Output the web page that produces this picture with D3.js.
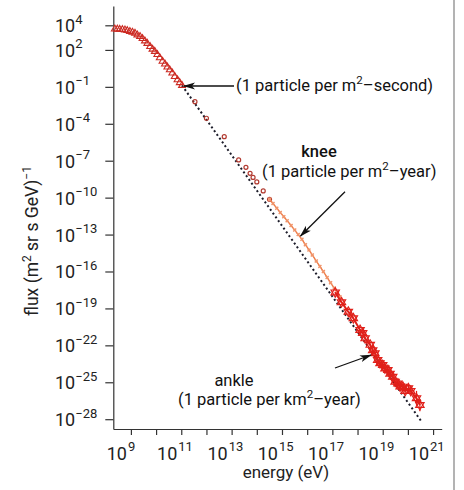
<!DOCTYPE html>
<html>
<head>
<meta charset="utf-8">
<script src="https://cdn.jsdelivr.net/npm/d3@7"></script>
<style>
body { margin: 0; background: #fff; }
svg { font-family: Roboto, "Liberation Sans", sans-serif; }
</style>
</head>
<body>
<div id="chart"></div>
<script>
var svgWidth = 464;
var svgHeight = 490;

// tick values and labels
var xTicks = [1e9, 1e10, 1e11, 1e12, 1e13, 1e14, 1e15, 1e16, 1e17, 1e18, 1e19, 1e20, 1e21];
var xLabelTicks = [1e9, 1e11, 1e13, 1e15, 1e17, 1e19, 1e21];
var xLabelExp = ["9", "11", "13", "15", "17", "19", "21"];
var yTicks = [1e4, 1e2, 1e-1, 1e-4, 1e-7, 1e-10, 1e-13, 1e-16, 1e-19, 1e-22, 1e-25, 1e-28];
var yLabelExp = ["4", "2", "\u22121", "\u22124", "\u22127", "\u221210", "\u221213", "\u221216", "\u221219", "\u221222", "\u221225", "\u221228"];

// low energy data (triangles)
var triEnergy = [2.3e8, 2.9e8, 3.6e8, 4.6e8, 5.8e8, 7.2e8, 9.1e8, 1.15e9, 1.45e9, 1.8e9, 2.3e9, 2.9e9, 3.6e9, 4.5e9,
  5.8e9, 7.2e9, 8.9e9, 1.12e10, 1.4e10, 1.8e10, 2.25e10, 2.8e10, 3.5e10, 4.4e10, 5.5e10, 7.1e10, 8.7e10, 1.07e11];
var triFlux = [5000, 4900, 4680, 4470, 4170, 3720, 3160, 2750, 2240, 1660, 1230, 830, 540, 340,
  186, 115, 76, 42, 23, 12, 7.1, 4.1, 2.4, 1.32, 0.69, 0.37, 0.22, 0.13];

// mid energy data (circles)
var circEnergy = [3.5e11, 1.0e12, 5.1e12, 1.9e13, 3.7e13, 5.4e13, 7.1e13, 1.0e14, 1.8e14, 3.2e14];
var circFlux = [6.2e-3, 2.8e-4, 8.9e-6, 1.15e-7, 2.9e-8, 9.5e-9, 4.4e-9, 1.9e-9, 3.5e-10, 7.4e-11];

// knee region (orange)
var kneeEnergy = [3.2e14, 4.4e14, 6.2e14, 8.5e14, 1.18e15, 1.6e15, 2.3e15, 3.2e15, 4.4e15, 6.2e15, 8.5e15,
  1.18e16, 1.6e16, 2.3e16, 3.2e16, 4.4e16, 6.2e16, 8.5e16, 1.18e17, 1.6e17, 2.0e17];
var kneeFlux = [7.4e-11, 3.3e-11, 1.4e-11, 6.3e-12, 2.8e-12, 1.35e-12, 5.4e-13, 2.3e-13, 1.0e-13, 4.1e-14, 1.5e-14,
  5.6e-15, 2.2e-15, 7.1e-16, 2.6e-16, 9.8e-17, 3.3e-17, 1.2e-17, 4.6e-18, 1.8e-18, 8.9e-19];

// high energy data (red)
var hiEnergy = [1.3e17, 2.3e17, 4.3e17, 6.8e17, 1.26e18, 1.6e18, 2.0e18, 3.2e18, 4.0e18, 4.9e18, 6.3e18, 7.8e18,
  1.0e19, 1.23e19, 1.6e19, 1.95e19, 2.5e19, 3.1e19, 4.0e19, 4.9e19, 6.3e19, 7.8e19, 1.05e20, 1.3e20, 2.2e20, 3.0e20];
var hiFlux = [2.0e-18, 3.2e-19, 5.4e-20, 1.6e-20, 1.8e-21, 1.0e-21, 3.7e-22, 1.1e-22, 4.0e-23, 2.3e-23, 6.5e-24, 3.5e-24,
  2.5e-24, 1.3e-24, 1.0e-24, 5.0e-25, 2.8e-25, 1.1e-25, 8.1e-26, 4.5e-26, 4.4e-26, 2.0e-26, 3.2e-26, 2.0e-26, 5.0e-27, 1.4e-27];
var hiErr = [0.05, 0.05, 0.06, 0.06, 0.08, 0.08, 0.1, 0.1, 0.12, 0.12, 0.15, 0.15,
  0.15, 0.18, 0.18, 0.2, 0.2, 0.22, 0.22, 0.25, 0.25, 0.28, 0.3, 0.3, 0.6, 0.5];

// power law guide (dotted)
var fitEnergy = [1.07e11, 3.5e20];
var fitFlux = [0.13, 6.3e-29];

var svg = d3.select("#chart")
  .append("svg")
  .attr("width", svgWidth)
  .attr("height", svgHeight);

var xScale = d3.scaleLog()
  .domain([2.0e8, 2.2e21])
  .range([113.3, 441.7]);
var yScale = d3.scaleLog()
  .domain([3.7e5, 1.6e-29])
  .range([6, 429]);

// page edge
svg.append("line")
  .attr("x1", 454).attr("x2", 454)
  .attr("y1", 0).attr("y2", svgHeight)
  .attr("stroke", "#9a9a9a")
  .attr("stroke-width", 1.5);

var xAxis = d3.axisBottom(xScale).tickValues(xTicks).tickSize(6).tickSizeOuter(0).tickFormat("");
var yAxis = d3.axisLeft(yScale).tickValues(yTicks).tickSize(8).tickSizeOuter(0).tickFormat("");

svg.append("g")
  .attr("transform", "translate(0,429)")
  .call(xAxis)
  .call(g => g.selectAll("path,line").attr("stroke", "#333").attr("stroke-width", 1.2));
svg.append("g")
  .attr("transform", "translate(113.3,0)")
  .call(yAxis)
  .call(g => g.selectAll("path,line").attr("stroke", "#333").attr("stroke-width", 1.2));

// x tick labels
xLabelTicks.forEach(function(v, i) {
  svg.append("text")
    .attr("x", xScale(v) - 4).attr("y", 460)
    .attr("text-anchor", "end")
    .attr("font-size", 18).attr("fill", "#222")
    .text("10");
  svg.append("text")
    .attr("x", xScale(v) - 3).attr("y", 451)
    .attr("font-size", 13).attr("fill", "#222")
    .text(xLabelExp[i]);
});

// y tick labels
yTicks.forEach(function(v, i) {
  var t = svg.append("text")
    .attr("x", 55).attr("y", yScale(v) + 7)
    .attr("font-size", 18).attr("fill", "#222");
  t.append("tspan").text("10");
  t.append("tspan").attr("dy", -8.5).attr("font-size", 13).text(yLabelExp[i]);
});

// axis titles
svg.append("text")
  .attr("x", 286).attr("y", 478)
  .attr("text-anchor", "middle")
  .attr("font-size", 17).attr("fill", "#222")
  .text("energy (eV)");

var yt = svg.append("text")
  .attr("transform", "translate(38,241) rotate(-90)")
  .attr("text-anchor", "middle")
  .attr("font-size", 17.5).attr("fill", "#222");
yt.append("tspan").text("flux (m");
yt.append("tspan").attr("dy", -7).attr("font-size", 12).text("2");
yt.append("tspan").attr("dy", 7).text(" sr s GeV)");
yt.append("tspan").attr("dy", -7).attr("font-size", 12).text("\u22121");

var line = d3.line()
  .x(d => xScale(d[0]))
  .y(d => yScale(d[1]));

// dotted guide
svg.append("path")
  .attr("d", line(d3.zip(fitEnergy, fitFlux)))
  .attr("fill", "none")
  .attr("stroke", "#1c1c2a")
  .attr("stroke-width", 2)
  .attr("stroke-dasharray", "2,2.6");

// triangles
var triData = d3.zip(triEnergy, triFlux);
svg.append("g").selectAll("path")
  .data(triData)
  .enter()
  .append("path")
  .attr("d", d3.symbol().type(d3.symbolTriangle).size(20))
  .attr("transform", d => `translate(${xScale(d[0])},${yScale(d[1])})`)
  .attr("fill", "none")
  .attr("stroke", "#cc2a22")
  .attr("stroke-width", 1.1);

// circles
svg.append("g").selectAll("circle")
  .data(d3.zip(circEnergy, circFlux))
  .enter()
  .append("circle")
  .attr("cx", d => xScale(d[0]))
  .attr("cy", d => yScale(d[1]))
  .attr("r", 2)
  .attr("fill", "none")
  .attr("stroke", "#b23a30")
  .attr("stroke-width", 1.2);

// knee line
var kneeData = d3.zip(kneeEnergy, kneeFlux);
svg.append("path")
  .attr("d", line(kneeData))
  .attr("fill", "none")
  .attr("stroke", "#ee7a45")
  .attr("stroke-width", 1.4);
svg.append("g").selectAll("path")
  .data(kneeData)
  .enter()
  .append("path")
  .attr("d", d3.symbol().type(d3.symbolCross).size(10))
  .attr("transform", d => `translate(${xScale(d[0])},${yScale(d[1])}) rotate(45)`)
  .attr("fill", "#f0946a");

// high energy data
var hiData = d3.zip(hiEnergy, hiFlux, hiErr);
svg.append("path")
  .attr("d", line(hiData))
  .attr("fill", "none")
  .attr("stroke", "#e0201a")
  .attr("stroke-width", 2);
var hiG = svg.append("g").selectAll("g")
  .data(hiData)
  .enter()
  .append("g")
  .attr("transform", d => `translate(${xScale(d[0])},${yScale(d[1])})`);
hiG.append("line")
  .attr("y1", d => yScale(d[1] * Math.pow(10, d[2])) - yScale(d[1]))
  .attr("y2", d => yScale(d[1] / Math.pow(10, d[2])) - yScale(d[1]))
  .attr("stroke", "#e0201a")
  .attr("stroke-width", 1.2);
hiG.append("path")
  .attr("d", d3.symbol().type(d3.symbolTriangle).size(30))
  .attr("fill", "none")
  .attr("stroke", "#e0201a")
  .attr("stroke-width", 1.2);
hiG.append("path")
  .attr("d", d3.symbol().type(d3.symbolTriangle).size(30))
  .attr("transform", "rotate(180)")
  .attr("fill", "none")
  .attr("stroke", "#e0201a")
  .attr("stroke-width", 1.2);

// arrows
var defs = svg.append("defs");
defs.append("marker")
  .attr("id", "arrow")
  .attr("viewBox", "0 0 12 8")
  .attr("refX", 11).attr("refY", 4)
  .attr("markerWidth", 12).attr("markerHeight", 8)
  .attr("markerUnits", "userSpaceOnUse")
  .attr("orient", "auto")
  .append("path")
  .attr("d", "M0,0.5 L12,4 L0,7.5 L3,4 z")
  .attr("fill", "#111");

[[234, 86, 184, 86], [345, 191.7, 300.5, 236], [335, 368, 371, 355]].forEach(function(a) {
  svg.append("line")
    .attr("x1", a[0]).attr("y1", a[1])
    .attr("x2", a[2]).attr("y2", a[3])
    .attr("stroke", "#111")
    .attr("stroke-width", 1.3)
    .attr("marker-end", "url(#arrow)");
});

function note(x, y, pre, sup, post, size, anchor) {
  var t = svg.append("text")
    .attr("x", x).attr("y", y)
    .attr("text-anchor", anchor || "start")
    .attr("font-size", size).attr("fill", "#111");
  t.append("tspan").text(pre);
  if (sup) {
    t.append("tspan").attr("dy", -7).attr("font-size", 11.5).text(sup);
    t.append("tspan").attr("dy", 7).text(post);
  }
  return t;
}

note(236, 91, "(1 particle per m", "2", "\u2013second)", 16.5);
note(319, 157, "knee", null, null, 16.5, "middle").attr("font-weight", 500);
note(262, 177, "(1 particle per m", "2", "\u2013year)", 16.5);
note(234, 386, "ankle", null, null, 16.5, "middle");
note(178, 405, "(1 particle per km", "2", "\u2013year)", 16.5);
</script>
</body>
</html>
